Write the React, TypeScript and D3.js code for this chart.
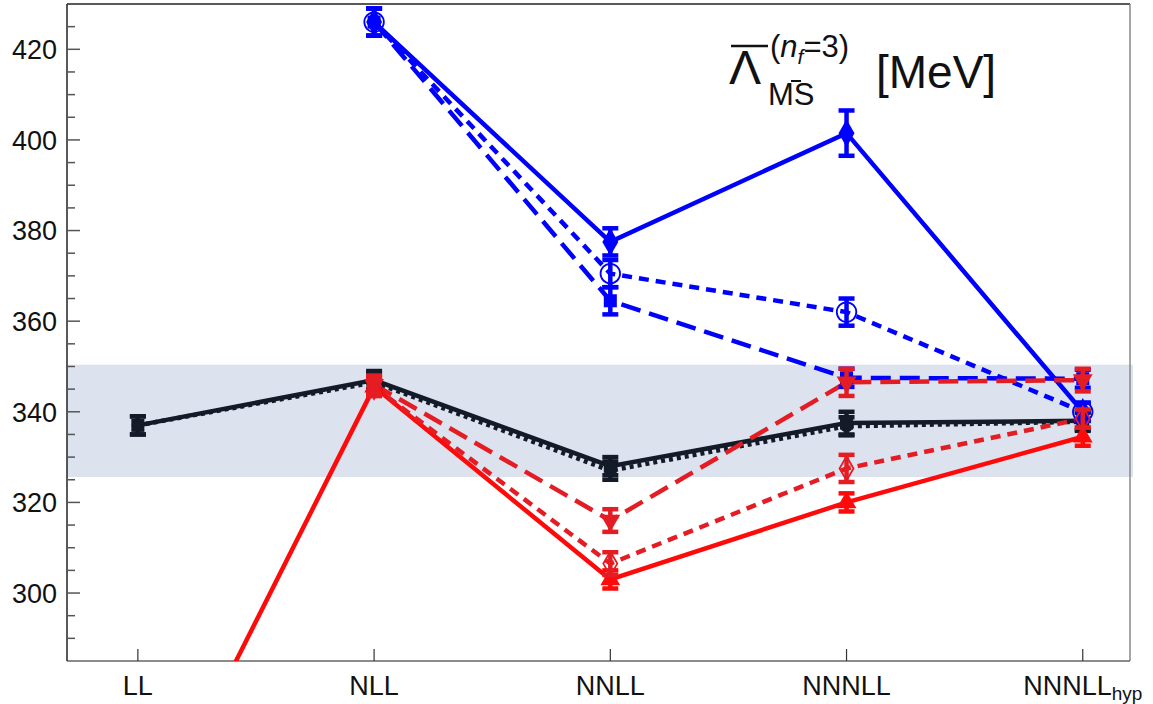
import React from "react";
import * as d3 from "d3";

const categories = ["LL", "NLL", "NNLL", "NNNLL", "NNNLL_hyp"];
const yTicks = [300, 320, 340, 360, 380, 400, 420];
const band = [325.6, 350.4];

// values per category (null = absent), symmetric errors
const blueSolidVals = [null, 426, 377.5, 401.5, 340];
const blueSolidErr = [0, 3, 3, 5, 2];
const blueDottedVals = [null, 426, 370.5, 362, 340];
const blueDottedErr = [0, 3, 3, 3, 2];
const blueDashedVals = [null, 426, 364.5, 347.5, 347.3];
const blueDashedErr = [0, 3, 3, 2, 2];
const blackSolidVals = [337, 347, 328, 337.5, 338];
const blackSolidErr = [2, 2, 2, 2.5, 2];
const blackDashedVals = [337, 346.5, 327, 336.8, 337.8];
const blackDashedErr = [2, 2, 2, 2, 2];
const redSolidVals = [242, 345.5, 303, 320, 334.5];
const redSolidErr = [0, 2, 2, 2, 2];
const redDottedVals = [null, 345.5, 306.5, 327.5, 338.5];
const redDottedErr = [0, 2, 2.5, 3, 2];
const redDashedVals = [null, 346, 316, 346.5, 347];
const redDashedErr = [0, 2, 2.5, 3, 2.5];

const BLUE = "#0000ff";
const BLACK = "#131a28";
const RED = "#ff0a0a";
const RED2 = "#e41d25";

type Series = {
  vals: (number | null)[];
  err: number[];
  color: string;
  dash: string | null;
  marker: string;
};

const series: Series[] = [
  { vals: blackDashedVals, err: blackDashedErr, color: BLACK, dash: "4 4", marker: "circle" },
  { vals: blackSolidVals, err: blackSolidErr, color: BLACK, dash: null, marker: "square" },
  { vals: blueDashedVals, err: blueDashedErr, color: BLUE, dash: "20 9", marker: "square" },
  { vals: blueDottedVals, err: blueDottedErr, color: BLUE, dash: "10 7", marker: "opencircle" },
  { vals: blueSolidVals, err: blueSolidErr, color: BLUE, dash: null, marker: "diamond" },
  { vals: redSolidVals, err: redSolidErr, color: RED, dash: null, marker: "triangle" },
  { vals: redDottedVals, err: redDottedErr, color: RED2, dash: "10 7", marker: "opendiamond" },
  { vals: redDashedVals, err: redDashedErr, color: RED2, dash: "20 9", marker: "downtriangle" },
];

const W = 1153;
const H = 704;
const left = 67;
const right = 1130;
const top = 4;
const bottom = 661;

export default function App() {
  const x = d3.scaleLinear().domain([-0.3, 4.2]).range([left, right]);
  const y = d3.scaleLinear().domain([285, 430]).range([bottom, top]);
  const minor = d3.range(290, 430, 5).filter((v) => v % 20 !== 0);

  const line = d3
    .line<[number, number]>()
    .x((d) => x(d[0]))
    .y((d) => y(d[1]));

  const markerPath = (m: string) => {
    switch (m) {
      case "diamond":
        return d3.symbol(d3.symbolDiamond, 220)();
      case "square":
        return d3.symbol(d3.symbolSquare, 170)();
      case "circle":
        return d3.symbol(d3.symbolCircle, 120)();
      case "opencircle":
        return d3.symbol(d3.symbolCircle, 300)();
      case "triangle":
      case "downtriangle":
        return d3.symbol(d3.symbolTriangle, 170)();
      case "opendiamond":
        return d3.symbol(d3.symbolDiamond, 170)();
    }
    return "";
  };

  const font = "'Liberation Sans', Arial, sans-serif";

  return (
    <svg
      width={W}
      height={H}
      style={{ position: "absolute", left: 0, top: 0, background: "#fff" }}
      fontFamily={font}
    >
      <defs>
        <clipPath id="plot">
          <rect x={left} y={top} width={right - left} height={bottom - top} />
        </clipPath>
      </defs>
      {/* band */}
      <rect
        x={left}
        y={y(band[1])}
        width={right + 3 - left}
        height={y(band[0]) - y(band[1])}
        fill="#dde3ee"
      />
      {/* frame */}
      <line x1={left} x2={right} y1={top} y2={top} stroke="#222" strokeWidth={1.5} />
      <line x1={right} x2={right} y1={top} y2={bottom} stroke="#888" strokeWidth={1.5} />
      <line x1={left} x2={right} y1={bottom} y2={bottom} stroke="#666" strokeWidth={1.5} />
      <line x1={left} x2={left} y1={top} y2={bottom} stroke="#222" strokeWidth={1.5} />
      {/* y ticks */}
      {yTicks.map((t) => (
        <g key={t}>
          <line x1={left} x2={left + 13} y1={y(t)} y2={y(t)} stroke="#555" strokeWidth={1.5} />
          <text x={57} y={y(t)} dy="0.36em" textAnchor="end" fontSize={27} fill="#111">
            {t}
          </text>
        </g>
      ))}
      {minor.map((t) => (
        <line key={t} x1={left} x2={left + 8} y1={y(t)} y2={y(t)} stroke="#555" strokeWidth={1.5} />
      ))}
      {/* x ticks */}
      {categories.map((c, i) => (
        <g key={c}>
          <line x1={x(i)} x2={x(i)} y1={bottom} y2={bottom - 12} stroke="#333" strokeWidth={1.2} />
          {c === "NNNLL_hyp" ? (
            <text x={x(i)} y={695} textAnchor="middle" fontSize={27} fill="#111">
              NNNLL
              <tspan fontSize={19} dy={5}>
                hyp
              </tspan>
            </text>
          ) : (
            <text x={x(i)} y={695} textAnchor="middle" fontSize={27} fill="#111">
              {c}
            </text>
          )}
        </g>
      ))}
      {/* lines */}
      <g clipPath="url(#plot)">
        {series.map((s, si) => {
          const pts: [number, number][] = [];
          s.vals.forEach((v, i) => {
            if (v !== null) pts.push([i, v]);
          });
          return (
            <path
              key={si}
              d={line(pts) || ""}
              fill="none"
              stroke={s.color}
              strokeWidth={4.5}
              strokeDasharray={s.dash || undefined}
            />
          );
        })}
        {/* error bars and markers */}
        {series.map((s, si) => (
          <g key={"m" + si}>
            {s.vals.map((v, i) => {
              if (v === null) return null;
              const e = s.err[i];
              const cx = x(i);
              const cy = y(v);
              if (cy > bottom) return null;
              const open = s.marker.startsWith("open");
              return (
                <g key={i}>
                  {e > 0 && (
                    <g stroke={s.color} strokeWidth={4.5}>
                      <line x1={cx} x2={cx} y1={y(v - e)} y2={y(v + e)} />
                      <line x1={cx - 8} x2={cx + 8} y1={y(v + e)} y2={y(v + e)} />
                      <line x1={cx - 8} x2={cx + 8} y1={y(v - e)} y2={y(v - e)} />
                    </g>
                  )}
                  <path
                    d={markerPath(s.marker) || ""}
                    transform={`translate(${cx},${cy})${s.marker === "downtriangle" ? " rotate(180)" : ""}`}
                    fill={open ? "none" : s.color}
                    stroke={open ? s.color : "none"}
                    strokeWidth={open ? 1.8 : 0}
                  />
                </g>
              );
            })}
          </g>
        ))}
      </g>
      {/* title */}
      <g fill="#111">
        <line x1={731} x2={768} y1={46} y2={46} stroke="#111" strokeWidth={2.4} />
        <text x={729} y={84} fontSize={48}>Λ</text>
        <text x={770} y={57} fontSize={31}>
          (<tspan fontStyle="italic">n</tspan>
          <tspan fontSize={21} fontStyle="italic" dy={7}>f</tspan>
          <tspan dy={-7}>=3)</tspan>
        </text>
        <text x={768} y={105} fontSize={31}>MS</text>
        <line x1={791} x2={801} y1={81} y2={81} stroke="#111" strokeWidth={2} />
        <text x={876} y={88} fontSize={46}>[MeV]</text>
      </g>
    </svg>
  );
}
